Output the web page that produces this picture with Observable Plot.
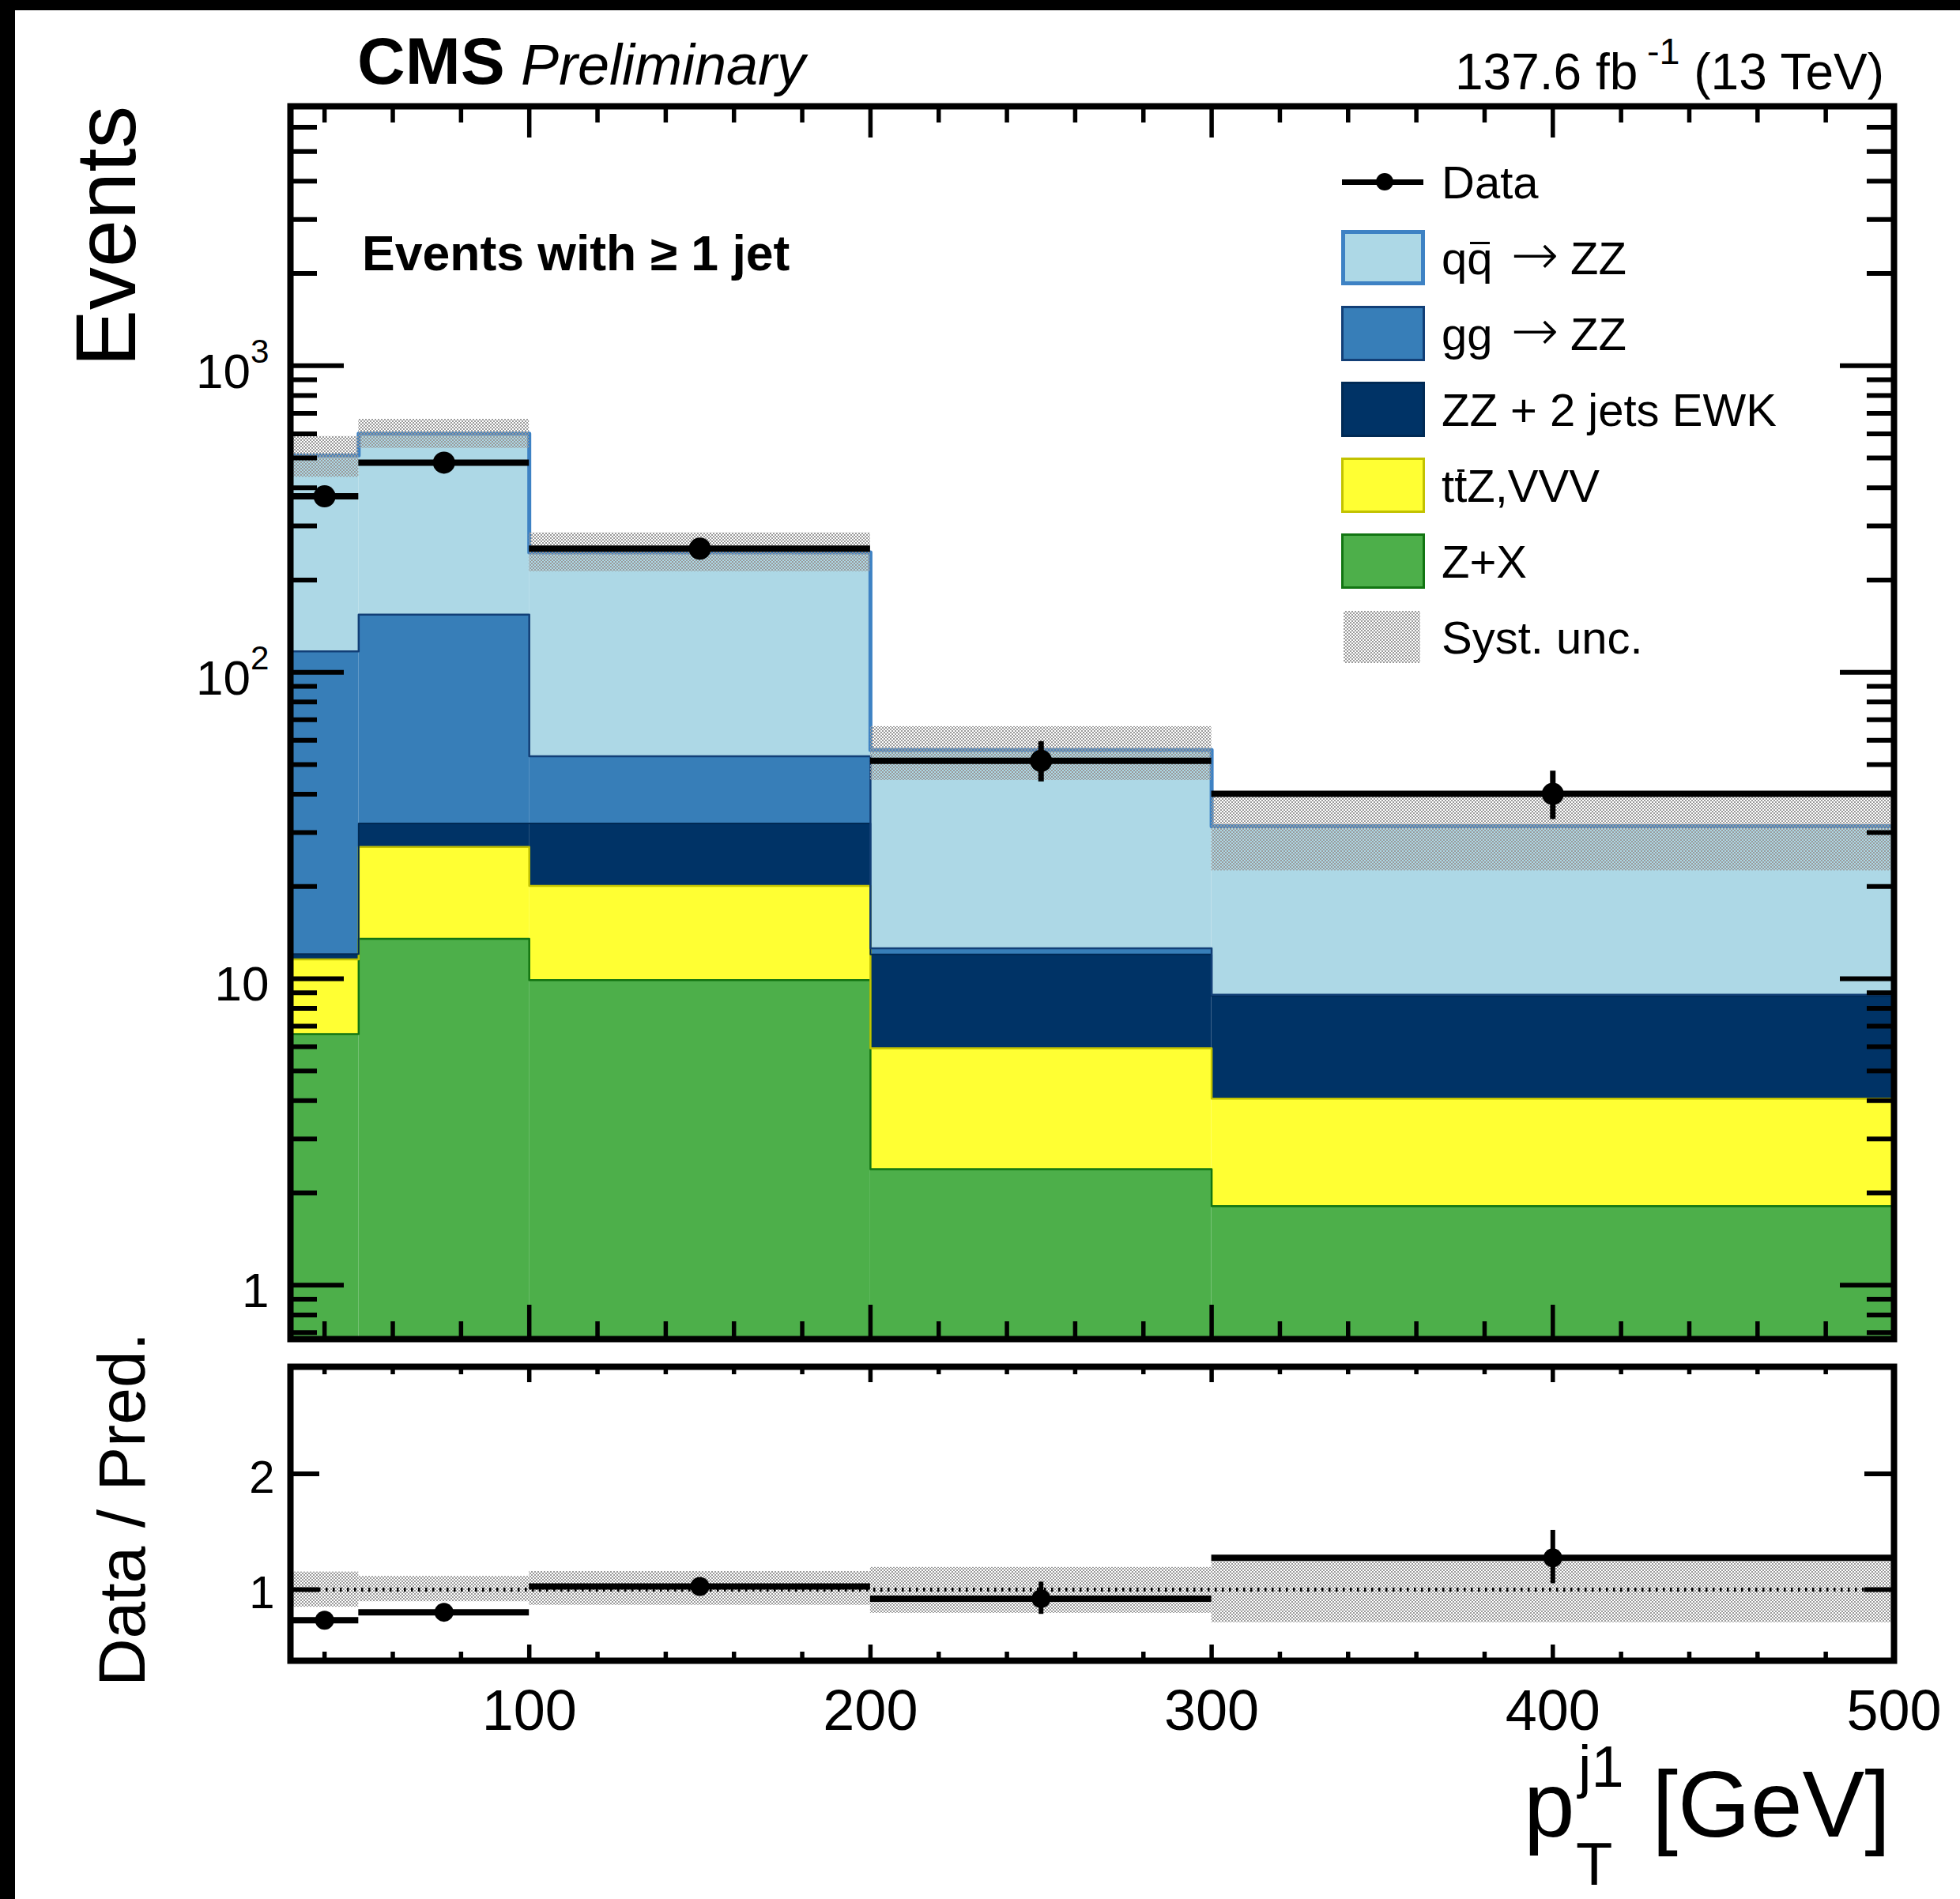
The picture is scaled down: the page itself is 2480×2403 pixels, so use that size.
<!DOCTYPE html>
<html>
<head>
<meta charset="utf-8">
<script src="https://cdn.jsdelivr.net/npm/d3@7"></script>
<script src="https://cdn.jsdelivr.net/npm/@observablehq/plot@0.6"></script>
<style>
  html, body { margin: 0; padding: 0; background: #fff; }
  #fig { position: relative; width: 2480px; height: 2403px; background: #fff; overflow: hidden;
         font-family: "Liberation Sans", Arial, Helvetica, sans-serif; color: #000; }
  .abs { position: absolute; }
</style>
</head>
<body>
<div id="fig"></div>
<script>
// ---- histogram binning (leading-jet pT, GeV) ----
const binLo = [30, 50, 100, 200, 300];
const binHi = [50, 100, 200, 300, 500];

// ---- expected yields per bin (stacked from bottom to top) ----
const seriesNames = ["Z+X", "ttZ,VVV", "ZZ + 2 jets EWK", "gg → ZZ", "qq → ZZ"];
const zPlusX = [6.6, 13.5, 9.9, 2.39, 1.81];
const ttZVVV = [4.96, 13.4, 10.2, 3.54, 2.25];
const zzEWK  = [0.48, 5.2, 12.0, 6.07, 4.73];
const ggZZ   = [105, 122, 21.1, 0.56, 0.08];
const qqZZ   = [393, 446, 193, 43.2, 22.6];

// ---- systematic band on the total prediction ----
const systLow  = [433, 538, 213, 44.4, 22.5];
const systHigh = [588, 669, 285, 66.5, 39.1];

// ---- observed events ----
const dataCounts  = [375, 483, 253, 51.4, 40.1];
const dataErrDown = [19, 22, 16, 7.5, 7.0];
const dataErrUp   = [20, 23, 17, 8.0, 7.5];

// ---- axes ----
const xDomain = [30, 500];
const yDomain = [0.667, 7025];
const ratioDomain = [0.386, 2.925];
const xMajor = [100, 200, 300, 400, 500];
const xMinor = [40, 60, 80, 120, 140, 160, 180, 220, 240, 260, 280, 320, 340, 360, 380, 420, 440, 460, 480];
const yMajor = [1, 10, 100, 1000];
const yMinor = [0.7, 0.8, 0.9, 2, 3, 4, 5, 6, 7, 8, 9, 20, 30, 40, 50, 60, 70, 80, 90,
                200, 300, 400, 500, 600, 700, 800, 900, 2000, 3000, 4000, 5000, 6000, 7000];
const ratioTicks = [1, 2];

// ---- styles ----
const FONT = '"Liberation Sans", Arial, Helvetica, sans-serif';
const fillOf = {"Z+X": "#4daf4a", "ttZ,VVV": "#ffff33", "ZZ + 2 jets EWK": "#003366", "gg → ZZ": "#377eb8", "qq → ZZ": "#add8e6"};
const lineOf = {"Z+X": "#127512", "ttZ,VVV": "#c2c200", "ZZ + 2 jets EWK": "#002a55", "gg → ZZ": "#123f77", "qq → ZZ": "#3e82c4"};
const lineWidthOf = {"Z+X": 2.5, "ttZ,VVV": 2.5, "ZZ + 2 jets EWK": 2, "gg → ZZ": 2.5, "qq → ZZ": 5};

// ---- derived tables ----
const yields = [zPlusX, ttZVVV, zzEWK, ggZZ, qqZZ];
const stackRows = [];
const outlines = [];
let cum = binLo.map(() => 0);
seriesNames.forEach((name, k) => {
  const below = cum.slice();
  cum = cum.map((c, i) => c + yields[k][i]);
  binLo.forEach((x1, i) => stackRows.push({
    name, x1, x2: binHi[i], y1: k === 0 ? yDomain[0] : below[i], y2: cum[i]
  }));
  const pts = binLo.map((x, i) => ({x, y: cum[i]}));
  pts.push({x: binHi[binHi.length - 1], y: cum[cum.length - 1]});
  outlines.push({name, pts});
});
const total = cum;

const systRows = binLo.map((x1, i) => ({x1, x2: binHi[i], lo: systLow[i], hi: systHigh[i]}));
const dataRows = binLo.map((x1, i) => ({
  x1, x2: binHi[i], xc: (x1 + binHi[i]) / 2, n: dataCounts[i],
  lo: dataCounts[i] - dataErrDown[i], hi: dataCounts[i] + dataErrUp[i]
}));
const ratioBand = binLo.map((x1, i) => ({x1, x2: binHi[i], lo: systLow[i] / total[i], hi: systHigh[i] / total[i]}));
const ratioRows = binLo.map((x1, i) => ({
  x1, x2: binHi[i], xc: (x1 + binHi[i]) / 2, r: dataCounts[i] / total[i],
  lo: (dataCounts[i] - dataErrDown[i]) / total[i], hi: (dataCounts[i] + dataErrUp[i]) / total[i]
}));

// ---- geometry of the two pads ----
const W = 2480;
const mL = 367, mR = 84;
const frameW = W - mL - mR;
const H1 = 1712, mT1 = 134, mB1 = 18, frameH1 = H1 - mT1 - mB1;
const H2 = 691, mT2 = 17, mB2 = 302, frameH2 = H2 - mT2 - mB2;

const black = {stroke: "black"};

// ---- upper pad: stacked prediction, data, systematic band ----
const mainPlot = Plot.plot({
  width: W, height: H1,
  marginLeft: mL, marginRight: mR, marginTop: mT1, marginBottom: mB1,
  style: {fontFamily: FONT, color: "black", background: "transparent", overflow: "visible"},
  x: {domain: xDomain, axis: null},
  y: {type: "log", domain: yDomain},
  color: {domain: seriesNames, range: seriesNames.map(n => fillOf[n])},
  marks: [
    Plot.rect(stackRows, {x1: "x1", x2: "x2", y1: "y1", y2: "y2", fill: "name"}),
    ...outlines.map(o => Plot.line(o.pts, {x: "x", y: "y", curve: "step-after",
      stroke: lineOf[o.name], strokeWidth: lineWidthOf[o.name]})),
    Plot.rect(systRows, {x1: "x1", x2: "x2", y1: "lo", y2: "hi", fill: "url(#systMain)"}),
    // inward ticks on all four sides
    Plot.ruleY(yMajor, {y: d => d, ...black, strokeWidth: 6, insetRight: frameW - 68}),
    Plot.ruleY(yMinor, {y: d => d, ...black, strokeWidth: 6, insetRight: frameW - 34}),
    Plot.ruleY(yMajor, {y: d => d, ...black, strokeWidth: 6, insetLeft: frameW - 68}),
    Plot.ruleY(yMinor, {y: d => d, ...black, strokeWidth: 6, insetLeft: frameW - 34}),
    Plot.ruleX(xMajor, {x: d => d, ...black, strokeWidth: 5.5, insetTop: frameH1 - 43}),
    Plot.ruleX(xMinor, {x: d => d, ...black, strokeWidth: 5.5, insetTop: frameH1 - 22}),
    Plot.ruleX(xMajor, {x: d => d, ...black, strokeWidth: 5.5, insetBottom: frameH1 - 40}),
    Plot.ruleX(xMinor, {x: d => d, ...black, strokeWidth: 5.5, insetBottom: frameH1 - 21}),
    // data
    Plot.ruleY(dataRows, {y: "n", x1: "x1", x2: "x2", ...black, strokeWidth: 8}),
    Plot.ruleX(dataRows, {x: "xc", y1: "lo", y2: "hi", ...black, strokeWidth: 7}),
    Plot.dot(dataRows, {x: "xc", y: "n", r: 14, fill: "black"}),
    Plot.axisY({ticks: yMajor, tickSize: 0, tickPadding: 27, fontSize: 62, dy: 8, label: null,
      tickFormat: d => d >= 100 ? `10^${Math.round(Math.log10(d))}` : `${d}`}),
    Plot.frame({stroke: "black", strokeWidth: 8})
  ]
});

// ---- lower pad: data / prediction ----
const ratioPlot = Plot.plot({
  width: W, height: H2,
  marginLeft: mL, marginRight: mR, marginTop: mT2, marginBottom: mB2,
  style: {fontFamily: FONT, color: "black", background: "transparent", overflow: "visible"},
  x: {domain: xDomain},
  y: {domain: ratioDomain},
  marks: [
    Plot.rect(ratioBand, {x1: "x1", x2: "x2", y1: "lo", y2: "hi", fill: "url(#systRatio)"}),
    Plot.ruleY([1], {...black, strokeWidth: 5, strokeDasharray: "2.5,6.5"}),
    Plot.ruleY(ratioTicks, {y: d => d, ...black, strokeWidth: 6, insetRight: frameW - 37}),
    Plot.ruleY(ratioTicks, {y: d => d, ...black, strokeWidth: 6, insetLeft: frameW - 37}),
    Plot.ruleX(xMajor, {x: d => d, ...black, strokeWidth: 5.5, insetTop: frameH2 - 20}),
    Plot.ruleX(xMinor, {x: d => d, ...black, strokeWidth: 5.5, insetTop: frameH2 - 11}),
    Plot.ruleX(xMajor, {x: d => d, ...black, strokeWidth: 5.5, insetBottom: frameH2 - 20}),
    Plot.ruleX(xMinor, {x: d => d, ...black, strokeWidth: 5.5, insetBottom: frameH2 - 10}),
    Plot.ruleY(ratioRows, {y: "r", x1: "x1", x2: "x2", ...black, strokeWidth: 8}),
    Plot.ruleX(ratioRows, {x: "xc", y1: "lo", y2: "hi", ...black, strokeWidth: 6}),
    Plot.dot(ratioRows, {x: "xc", y: "r", r: 12, fill: "black"}),
    Plot.axisY({ticks: ratioTicks, tickSize: 0, tickPadding: 20, fontSize: 58, dy: 5, label: null,
      tickFormat: d => `${d}`}),
    Plot.axisX({ticks: xMajor, tickSize: 0, tickPadding: 36, fontSize: 72, label: null}),
    Plot.frame({stroke: "black", strokeWidth: 8})
  ]
});

// stippled fill used for the systematic band
function addStipple(svg, id) {
  const p = d3.select(svg).insert("defs", ":first-child")
    .append("pattern").attr("id", id).attr("width", 4).attr("height", 4)
    .attr("patternUnits", "userSpaceOnUse");
  p.append("rect").attr("width", 2).attr("height", 2).attr("fill", "#9a9a9a");
  p.append("rect").attr("x", 2).attr("y", 2).attr("width", 2).attr("height", 2).attr("fill", "#9a9a9a");
}
addStipple(mainPlot, "systMain");
addStipple(ratioPlot, "systRatio");

// powers of ten as superscripts
d3.select(mainPlot).selectAll('g[aria-label="y-axis tick label"] text').each(function () {
  const m = this.textContent.match(/^(\d+)\^(\d+)$/);
  if (!m) return;
  const t = d3.select(this);
  t.text(null);
  t.append("tspan").text(m[1]);
  t.append("tspan").attr("dy", "-0.74em").attr("font-size", "0.68em").text(m[2]);
});

const fig = document.getElementById("fig");
mainPlot.style.position = "absolute"; mainPlot.style.left = "0px"; mainPlot.style.top = "0px";
ratioPlot.style.position = "absolute"; ratioPlot.style.left = "0px"; ratioPlot.style.top = H1 + "px";
fig.appendChild(mainPlot);
fig.appendChild(ratioPlot);

// ---- text placed by baseline ----
function addText(html, {x, y, size, weight = 400, italic = false, anchor = "start", rotate = 0}) {
  const wrap = document.createElement("div");
  wrap.className = "abs";
  Object.assign(wrap.style, {left: x + "px", top: y + "px", width: "0", height: "0"});
  if (rotate) Object.assign(wrap.style, {transform: `rotate(${rotate}deg)`, transformOrigin: "0 0"});
  const t = document.createElement("div");
  t.className = "abs";
  const shift = anchor === "end" ? "-100%" : anchor === "middle" ? "-50%" : "0";
  Object.assign(t.style, {
    whiteSpace: "nowrap", fontSize: size + "px", lineHeight: "1.117", left: "0",
    top: (-0.905 * size) + "px", fontWeight: weight, fontStyle: italic ? "italic" : "normal",
    transform: `translateX(${shift})`
  });
  t.innerHTML = html;
  wrap.appendChild(t);
  fig.appendChild(wrap);
}
function addBox(style) {
  const d = document.createElement("div");
  d.className = "abs";
  Object.assign(d.style, {boxSizing: "border-box"}, style);
  fig.appendChild(d);
}
// a letter with a bar over it (antiparticle)
const barred = ch => `<span style="display:inline-block;position:relative">${ch}` +
  `<span style="position:absolute;left:0.06em;right:0.06em;top:0.2em;border-top:0.055em solid #000"></span></span>`;
const arrow = `<span style="font-family:'DejaVu Sans';font-size:1.25em;font-weight:300;line-height:0;margin:0 0.2em 0 0.32em">→</span>`;

// frame strips of the canvas
addBox({left: "0px", top: "0px", width: W + "px", height: "13px", background: "#000"});
addBox({left: "0px", top: "0px", width: "19px", height: "2403px", background: "#000"});

// header
addText("CMS", {x: 452, y: 107, size: 84, weight: 700});
addText("Preliminary", {x: 659, y: 107, size: 72, italic: true});
addText('137.6 fb<span style="position:relative;top:-0.68em;font-size:0.73em;margin-left:0.25em">-1</span> (13 TeV)',
        {x: 2384, y: 114, size: 64, anchor: "end"});
addText("Events with ≥ 1 jet", {x: 458, y: 343, size: 62.5, weight: 700});

// axis titles
addText("Events", {x: 172, y: 464, size: 108, rotate: -90});
addText("Data / Pred.", {x: 184, y: 1910, size: 84, rotate: -90, anchor: "middle"});
addText("p", {x: 1928, y: 2325, size: 116});
addText("j1", {x: 1997, y: 2262, size: 74});
addText("T", {x: 1994, y: 2386, size: 76});
addText("[GeV]", {x: 2392, y: 2325, size: 118, anchor: "end"});

// legend
const legendLabels = {
  "qq → ZZ": `q${barred("q")}${arrow}ZZ`,
  "gg → ZZ": `gg${arrow}ZZ`,
  "ZZ + 2 jets EWK": "ZZ + 2 jets EWK",
  "ttZ,VVV": `t${barred("t")}Z,VVV`,
  "Z+X": "Z+X"
};
const legendOrder = ["qq → ZZ", "gg → ZZ", "ZZ + 2 jets EWK", "ttZ,VVV", "Z+X"];
const rowY = i => 230 + 96 * i;
const LX = 1697, LW = 106, LH = 70, TX = 1824, LS = 58;

addBox({left: "1698px", top: (rowY(0) - 3.5) + "px", width: "103px", height: "7px", background: "#000"});
addBox({left: (1752 - 11) + "px", top: (rowY(0) - 11) + "px", width: "22px", height: "22px", borderRadius: "50%", background: "#000"});
addText("Data", {x: TX, y: rowY(0) + 21, size: LS});

legendOrder.forEach((name, j) => {
  const i = j + 1;
  addBox({left: LX + "px", top: (rowY(i) - LH / 2) + "px", width: LW + "px", height: LH + "px",
          background: fillOf[name], border: `${name === "qq → ZZ" ? 5 : 3}px solid ${lineOf[name]}`});
  addText(legendLabels[name], {x: TX, y: rowY(i) + 21, size: LS});
});
addBox({left: "1700px", top: (rowY(6) - 33) + "px", width: "97px", height: "66px",
        backgroundImage: "repeating-conic-gradient(#9a9a9a 0 25%, #ffffff 0 50%)", backgroundSize: "4px 4px"});
addText("Syst. unc.", {x: TX, y: rowY(6) + 21, size: LS});
</script>
</body>
</html>
